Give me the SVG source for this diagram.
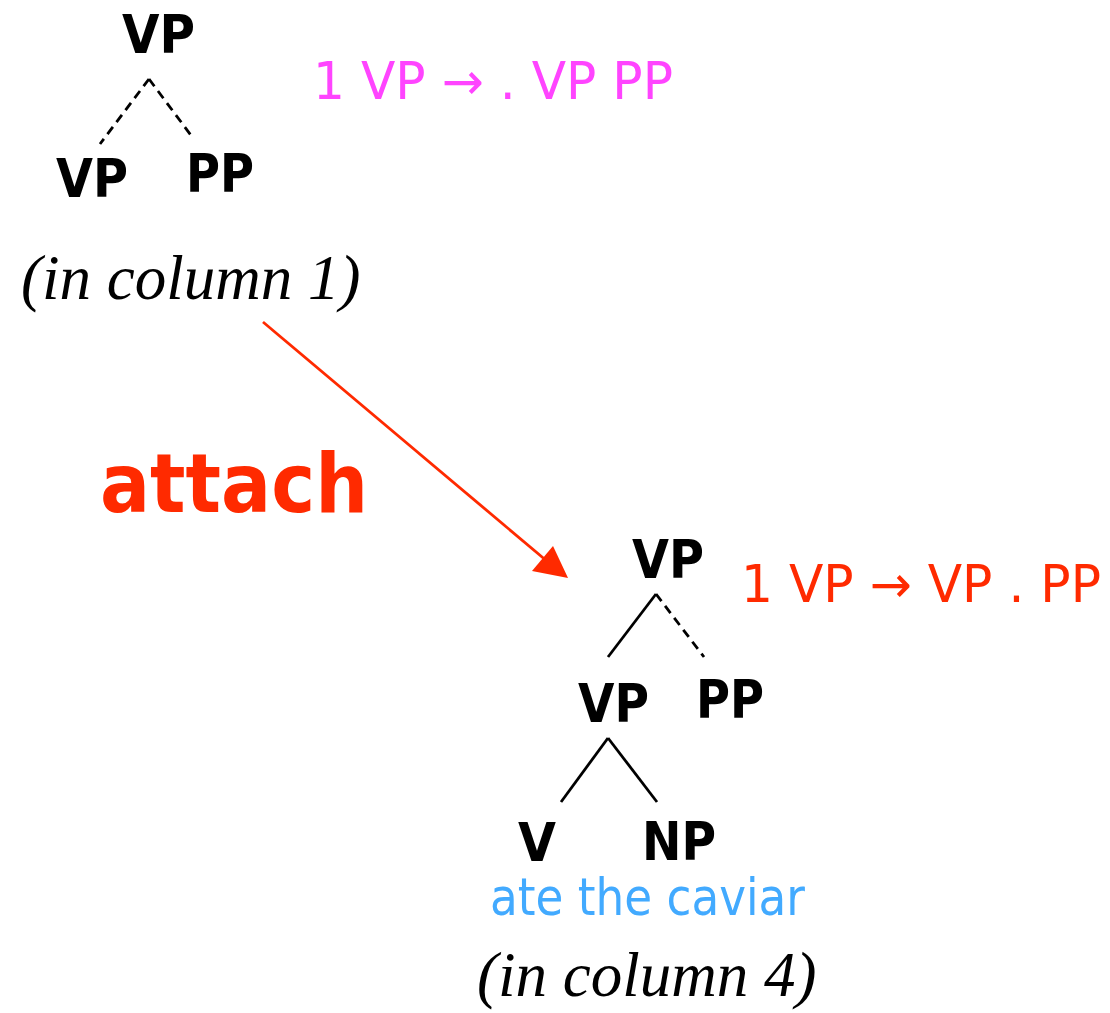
<svg xmlns="http://www.w3.org/2000/svg" width="1110" height="1013" viewBox="0 0 1110 1013">
<style>
.lbl{font-family:"DejaVu Sans",sans-serif;font-weight:bold;font-size:53px;fill:#000}
.rule{font-family:"DejaVu Sans",sans-serif;font-size:51px}
.note{font-family:"Liberation Serif",serif;font-style:italic;font-size:63px;fill:#000}
.solid{stroke:#000;stroke-width:2.8;fill:none}
.dash{stroke:#000;stroke-width:2.8;fill:none;stroke-dasharray:9 6}
</style>
<rect width="1110" height="1013" fill="#fff"/>
<g id="connectors">
<line class="dash" x1="149" y1="79" x2="100" y2="144"/>
<line class="dash" x1="149" y1="79" x2="193" y2="138"/>
<line class="solid" x1="656" y1="594" x2="608" y2="657"/>
<line class="dash" x1="656" y1="594" x2="704" y2="657"/>
<line class="solid" x1="608" y1="738" x2="561" y2="802"/>
<line class="solid" x1="608" y1="738" x2="657" y2="802"/>
<line x1="263" y1="322" x2="548" y2="562" stroke="#ff2a00" stroke-width="2.8"/>
<polygon points="568,578 532,571 553,546" fill="#ff2a00"/>
</g>
<g id="top-vp"><text class="lbl" x="122" y="53" textLength="73" lengthAdjust="spacingAndGlyphs">VP</text></g>
<g id="top-vp-child"><text class="lbl" x="56" y="197" textLength="72" lengthAdjust="spacingAndGlyphs">VP</text></g>
<g id="top-pp"><text class="lbl" x="186" y="192" textLength="68" lengthAdjust="spacingAndGlyphs">PP</text></g>
<g id="rule1"><text class="rule" x="313" y="99" fill="#ff44ff" textLength="360" lengthAdjust="spacingAndGlyphs">1 VP → . VP PP</text></g>
<g id="note1"><text class="note" x="21" y="299">(in column 1)</text></g>
<g id="attach"><text x="100" y="512" fill="#ff2a00" font-family="DejaVu Sans, sans-serif" font-weight="bold" font-size="82" textLength="268" lengthAdjust="spacingAndGlyphs">attach</text></g>
<g id="bot-vp"><text class="lbl" x="632" y="578" textLength="72" lengthAdjust="spacingAndGlyphs">VP</text></g>
<g id="rule2"><text class="rule" x="741" y="602" fill="#ff2a00" textLength="360" lengthAdjust="spacingAndGlyphs">1 VP → VP . PP</text></g>
<g id="mid-vp"><text class="lbl" x="578" y="722" textLength="71" lengthAdjust="spacingAndGlyphs">VP</text></g>
<g id="mid-pp"><text class="lbl" x="696" y="718" textLength="68" lengthAdjust="spacingAndGlyphs">PP</text></g>
<g id="v"><text class="lbl" x="518" y="861" textLength="38" lengthAdjust="spacingAndGlyphs">V</text></g>
<g id="np"><text class="lbl" x="642" y="860" textLength="74" lengthAdjust="spacingAndGlyphs">NP</text></g>
<g id="words"><text class="rule" x="490" y="915" fill="#42aaff" textLength="315" lengthAdjust="spacingAndGlyphs">ate the caviar</text></g>
<g id="note4"><text class="note" x="477" y="996">(in column 4)</text></g>
</svg>
